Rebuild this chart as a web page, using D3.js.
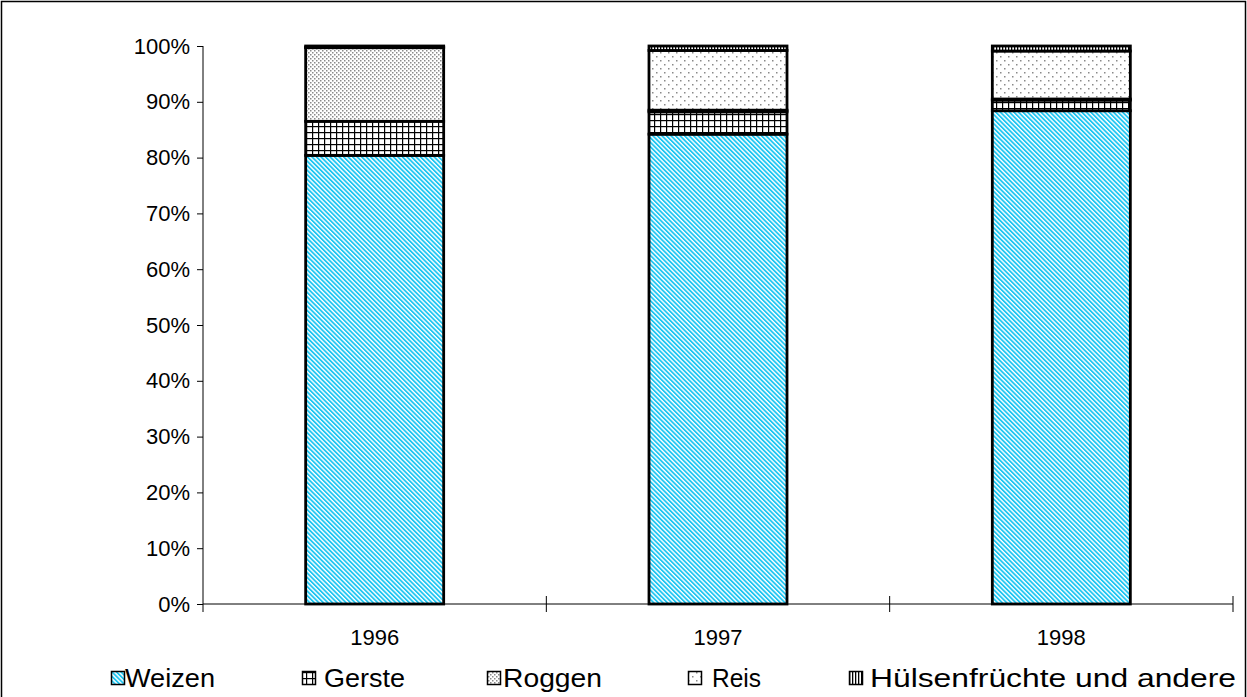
<!DOCTYPE html>
<html>
<head>
<meta charset="utf-8">
<script src="https://cdn.jsdelivr.net/npm/d3@7"></script>
<style>
  html, body { margin: 0; padding: 0; background: #fff; }
  svg { display: block; font-family: "Liberation Sans", Arial, sans-serif; }
</style>
</head>
<body>
<svg id="chart" width="1247" height="697"></svg>
<script>
// Anteile der Getreidearten je Jahr (in %)
const years = ["1996", "1997", "1998"];
const seriesNames = ["Weizen", "Gerste", "Roggen", "Reis", "Hülsenfrüchte und andere"];
const weizen = [80.4, 84.2, 88.4];
const gerste = [6.1, 4.0, 1.9];
const roggen = [13.2, 0.3, 0.2];
const reis   = [0.1, 10.7, 8.6];
const huelsen = [0.2, 0.8, 0.9];
const yTicks = [0, 0.1, 0.2, 0.3, 0.4, 0.5, 0.6, 0.7, 0.8, 0.9, 1.0];

const seriesValues = [weizen, gerste, roggen, reis, huelsen];
const rows = years.map((y, i) => {
  const r = { year: y };
  seriesNames.forEach((s, k) => { r[s] = seriesValues[k][i]; });
  return r;
});

const svg = d3.select("#chart");
const W = 1247, H = 697;

// Rahmen um das Diagramm
svg.append("rect")
  .attr("x", 1.5).attr("y", 1.5)
  .attr("width", W - 3).attr("height", H + 10)
  .attr("fill", "none").attr("stroke", "#000").attr("stroke-width", 1.5);

// Füllmuster
const defs = svg.append("defs");
function pattern(id, w, h, draw, transform) {
  const p = defs.append("pattern").attr("id", id)
    .attr("patternUnits", "userSpaceOnUse")
    .attr("width", w).attr("height", h);
  if (transform) p.attr("patternTransform", transform);
  p.append("rect").attr("width", w).attr("height", h).attr("fill", "#fff");
  draw(p);
  return "url(#" + id + ")";
}
const fills = {};
fills["Weizen"] = pattern("pWeizen", 3.2, 3.2, p => {
  p.append("rect").attr("x", 0).attr("y", 0).attr("width", 1.8).attr("height", 3.2).attr("fill", "#1ec6f2");
}, "rotate(-45)");
fills["Gerste"] = pattern("pGerste", 6, 6, p => {
  p.append("rect").attr("x", 0).attr("y", 0).attr("width", 6).attr("height", 1.2).attr("fill", "#000");
  p.append("rect").attr("x", 0).attr("y", 0).attr("width", 1.2).attr("height", 6).attr("fill", "#000");
});
fills["Roggen"] = pattern("pRoggen", 4, 4, p => {
  p.append("rect").attr("x", 0).attr("y", 0).attr("width", 1.5).attr("height", 1.5).attr("fill", "#8a8a8a");
  p.append("rect").attr("x", 2).attr("y", 2).attr("width", 1.5).attr("height", 1.5).attr("fill", "#8a8a8a");
});
fills["Reis"] = pattern("pReis", 8, 8, p => {
  p.append("rect").attr("x", 0).attr("y", 0).attr("width", 1.5).attr("height", 1.5).attr("fill", "#8a8a8a");
  p.append("rect").attr("x", 4).attr("y", 4).attr("width", 1.5).attr("height", 1.5).attr("fill", "#8a8a8a");
});
fills["Hülsenfrüchte und andere"] = pattern("pHuelsen", 3, 3, p => {
  p.append("rect").attr("x", 0).attr("y", 0).attr("width", 1.3).attr("height", 3).attr("fill", "#000");
});

// Skalen
const x = d3.scaleBand().domain(years).range([203, 1233]).paddingInner(0.598).paddingOuter(0.299);
const y = d3.scaleLinear().domain([0, 1]).range([604, 46]);

const stack = d3.stack().keys(seriesNames)
  .value((d, key) => d[key] / 100);
const stacked = stack(rows);

// Balken
const g = svg.append("g");
stacked.forEach(layer => {
  g.selectAll(null).data(layer).enter().append("rect")
    .attr("x", d => x(d.data.year))
    .attr("width", x.bandwidth())
    .attr("y", d => y(d[1]))
    .attr("height", d => y(d[0]) - y(d[1]))
    .attr("fill", fills[layer.key])
    .attr("stroke", "#000")
    .attr("stroke-width", 2.8);
});

// Y-Achse
const yAxis = d3.axisLeft(y).tickValues(yTicks).tickFormat(d3.format(".0%")).tickSize(6).tickPadding(7);
const ya = svg.append("g").attr("transform", "translate(203,0)").call(yAxis);
ya.select(".domain").remove();
ya.append("line").attr("x1", 0).attr("x2", 0).attr("y1", 46).attr("y2", 612).attr("stroke", "#000");
ya.selectAll(".tick line").attr("stroke", "#000");
ya.selectAll(".tick text").attr("font-size", 22).attr("fill", "#000")
  .attr("font-family", "Liberation Sans, Arial, sans-serif");

// X-Achse
svg.append("line").attr("x1", 203).attr("x2", 1233).attr("y1", 604).attr("y2", 604).attr("stroke", "#000");
const step = x.step();
const bounds = d3.range(1, years.length + 1).map(i => 203 + i * step);
svg.selectAll(".xb").data(bounds).enter().append("line")
  .attr("x1", d => d).attr("x2", d => d)
  .attr("y1", 596).attr("y2", 612).attr("stroke", "#000");
svg.selectAll(".xl").data(years).enter().append("text")
  .attr("x", d => x(d) + x.bandwidth() / 2)
  .attr("y", 645)
  .attr("text-anchor", "middle")
  .attr("font-size", 22)
  .text(d => d);

// Legende
const legendX = [111, 302, 487, 688, 849];
const legendTextX = [125, 324, 503, 712, 870];
const legendTextW = [90, 81, 99, 49, 366];
const lg = svg.append("g");
seriesNames.forEach((s, i) => {
  lg.append("rect")
    .attr("x", legendX[i] + 0.5).attr("y", 671.5)
    .attr("width", 13).attr("height", 13)
    .attr("fill", fills[s]).attr("stroke", "#000").attr("stroke-width", 1.5);
  lg.append("text")
    .attr("x", legendTextX[i]).attr("y", 687)
    .attr("font-size", 26)
    .attr("textLength", legendTextW[i])
    .attr("lengthAdjust", "spacingAndGlyphs")
    .text(s);
});
</script>
</body>
</html>
